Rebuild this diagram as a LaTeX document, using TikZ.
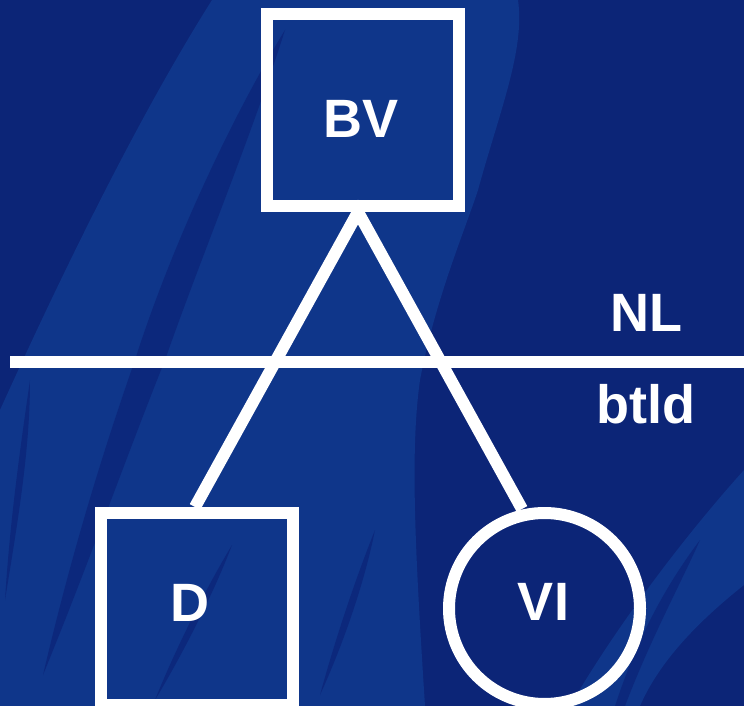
\documentclass[tikz,border=0pt]{standalone}
\usepackage{fontspec}
\setmainfont{Liberation Sans}
\definecolor{bgdark}{RGB}{12,37,119}
\definecolor{bglight}{RGB}{15,54,138}
\definecolor{bgstreak}{RGB}{12,40,124}
\begin{document}
\begin{tikzpicture}[x=1pt,y=-1pt,
  ink/.style={draw=white,line width=12pt},
  sq/.style={ink,rectangle,minimum size=192pt,inner sep=0pt},
  circ/.style={ink,circle,minimum size=191pt,inner sep=0pt},
  lbl/.style={text=white,font=\fontsize{54}{60}\selectfont\bfseries,inner sep=0pt},
  edge/.style={draw=white,line width=12pt}]
\useasboundingbox (0,0) rectangle (744,706);
% background
\fill[bgdark] (0,0) rectangle (744,706);
\begin{scope}
\clip (0,0) rectangle (744,706);
\fill[bglight] (212,0) .. controls (130,130) and (50,300) .. (0,410) -- (0,706) -- (425,706)
  .. controls (415,550) and (410,450) .. (420,380) .. controls (435,300) and (465,230) .. (478,190)
  .. controls (500,110) and (525,50) .. (518,0) -- cycle;
\fill[bglight] (570,706) .. controls (620,620) and (690,530) .. (744,470) -- (744,585)
  .. controls (700,620) and (660,660) .. (640,706) -- cycle;
\fill[bgstreak] (285,30) .. controls (230,120) and (170,250) .. (135,360)
  .. controls (100,460) and (70,560) .. (43,675)
  .. controls (90,560) and (125,460) .. (165,360)
  .. controls (200,260) and (250,140) .. (285,30) -- cycle;
\fill[bgstreak] (232,545) .. controls (205,590) and (175,650) .. (155,700)
  .. controls (185,650) and (215,590) .. (232,545) -- cycle;
\fill[bgstreak] (375,530) .. controls (355,580) and (335,640) .. (320,695)
  .. controls (345,640) and (365,580) .. (375,530) -- cycle;
\fill[bgstreak] (30,380) .. controls (20,450) and (10,520) .. (5,600)
  .. controls (18,520) and (30,450) .. (30,380) -- cycle;
\fill[bgstreak] (700,540) .. controls (670,580) and (640,630) .. (615,706) -- (625,706)
  .. controls (650,640) and (680,585) .. (700,540) -- cycle;
\end{scope}
% generation line
\coordinate (nlL) at (10,362);
\coordinate (nlR) at (744,362);
\draw[edge] (nlL) -- (nlR);
% nodes
\node[sq,label={[lbl,xshift=-2pt,yshift=-9pt]center:BV}] (bv) at (363,110) {};
\node[sq,label={[lbl,xshift=-7pt,yshift=6pt]center:D}] (d) at (197,609) {};
\node[circ,label={[lbl,xshift=-1pt,yshift=7pt]center:VI}] (vi) at (544.5,608.5) {};
\node[lbl] (nl) at (646,312.5) {NL};
\node[lbl] (btld) at (645.5,404) {btld};
% connectors
\coordinate (apex) at ([xshift=-5pt]bv.south);
\coordinate (dtop) at ([xshift=-2pt]d.north);
\coordinate (vitop) at (522,509);
\draw[edge] (dtop) -- (apex) -- (vitop);
\end{tikzpicture}
\end{document}
